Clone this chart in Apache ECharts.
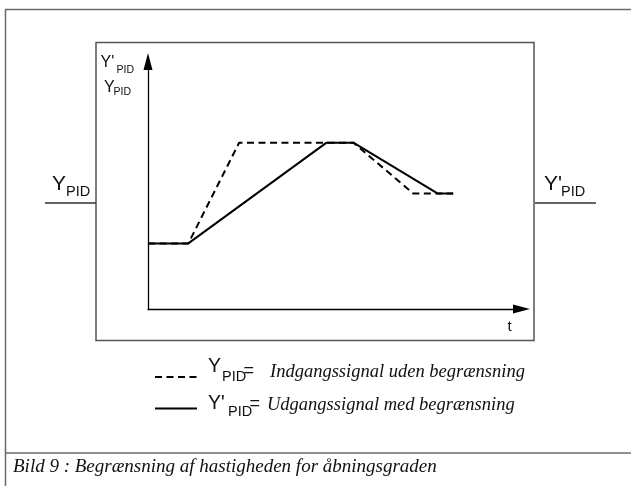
<!DOCTYPE html>
<html>
<head>
<meta charset="utf-8">
<script src="https://cdn.jsdelivr.net/npm/echarts@6/dist/echarts.min.js"></script>
<style>
  html, body { margin: 0; padding: 0; background: #ffffff; }
  #chart { width: 631px; height: 486px; }
</style>
</head>
<body>
<div id="chart"></div>
<script>
// Time positions of the corners of each signal (arbitrary time units, axis 0..100)
const inputTimes  = [0, 10.8, 24.4, 55.0, 71.0, 81.7];
const outputTimes = [0, 10.8, 47.8, 55.0, 77.5, 81.7];
// Signal levels at those corners (arbitrary units, axis 0..100)
const inputLevels  = [26.5, 26.5, 67.2, 67.2, 46.7, 46.7];
const outputLevels = [26.5, 26.5, 67.2, 67.2, 46.7, 46.7];

// Texts
const legendInputText  = 'Indgangssignal uden begrænsning';
const legendOutputText = 'Udgangssignal med begrænsning';
const captionText = 'Bild 9 : Begrænsning af hastigheden for åbningsgraden';
const timeAxisName = 't';

const pairs = (xs, ys) => xs.map((x, i) => [x, ys[i]]);

const SANS = '"Liberation Sans", Arial, sans-serif';
const SERIF_I = 'italic 18.5px "Liberation Serif", "Times New Roman", serif';
const INK = '#111111';

function txt(text, x, y, size, font) {
  return {
    type: 'text', silent: true,
    style: {
      text: text, x: x, y: y,
      font: font || (size + 'px ' + SANS),
      fill: INK, align: 'left', verticalAlign: 'middle'
    }
  };
}
function seg(x1, y1, x2, y2, color, w, dash) {
  return {
    type: 'line', silent: true,
    shape: { x1: x1, y1: y1, x2: x2, y2: y2 },
    style: { stroke: color, lineWidth: w, lineDash: dash || null }
  };
}

const chart = echarts.init(document.getElementById('chart'), null, { renderer: 'canvas' });

const axisCommon = {
  type: 'value', min: 0, max: 100,
  splitLine: { show: false },
  axisTick: { show: false },
  axisLabel: { show: false },
  axisLine: {
    show: true, onZero: false,
    symbol: ['none', 'triangle'],
    symbolSize: [9, 17],
    lineStyle: { color: '#000000', width: 1.3 }
  }
};

chart.setOption({
  animation: false,
  backgroundColor: '#ffffff',
  grid: { left: 148, right: 109.5, top: 61.5, bottom: 177 },
  xAxis: axisCommon,
  yAxis: axisCommon,
  series: [
    {
      name: 'Y_PID', type: 'line', data: pairs(inputTimes, inputLevels),
      symbol: 'none', z: 2,
      lineStyle: { color: '#000000', width: 2, type: [7, 4.5] }
    },
    {
      name: "Y'_PID", type: 'line', data: pairs(outputTimes, outputLevels),
      symbol: 'none', z: 3,
      lineStyle: { color: '#000000', width: 2 }
    }
  ],
  graphic: [
    // frame
    seg(5, 9.5, 631, 9.5, '#6a6a6a', 1.5),
    seg(5.5, 9, 5.5, 486, '#6a6a6a', 1.5),
    seg(5, 453, 631, 453, '#6a6a6a', 1.5),
    {
      type: 'rect', silent: true,
      shape: { x: 96, y: 42.5, width: 438, height: 298 },
      style: { fill: 'none', stroke: '#555555', lineWidth: 1.5 }
    },
    // input / output connections
    seg(45, 203, 96, 203, '#333333', 1.3),
    seg(535, 203, 596, 203, '#333333', 1.3),
    txt('Y', 52, 184.5, 21),
    txt('PID', 66, 192, 14.5),
    txt("Y'", 544, 184.5, 21),
    txt('PID', 561, 192, 14.5),
    // axis names
    txt("Y'", 100.5, 62.5, 16),
    txt('PID', 116.5, 70.5, 10.5),
    txt('Y', 104, 87.5, 16),
    txt('PID', 113.5, 92.5, 10.5),
    txt(timeAxisName, 507.5, 327, 15),
    // legend
    seg(155, 377, 197, 377, '#000000', 2, [7, 4.5]),
    txt('Y', 208, 366.5, 19.5),
    txt('PID', 222, 376.5, 14.5),
    txt('=', 243.5, 371.5, 18),
    txt(legendInputText, 270, 372, 0, SERIF_I),
    seg(155, 408.5, 197, 408.5, '#000000', 2),
    txt("Y'", 208, 404, 19.5),
    txt('PID', 228, 412, 14.5),
    txt('=', 249.5, 404, 18),
    txt(legendOutputText, 267, 405, 0, SERIF_I),
    // caption
    txt(captionText, 13, 467, 0, 'italic 19px "Liberation Serif", "Times New Roman", serif')
  ]
});
</script>
</body>
</html>
